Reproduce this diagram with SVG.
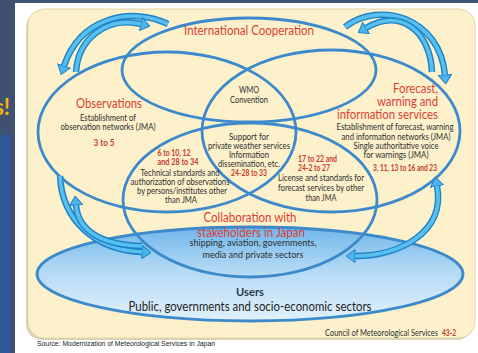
<svg xmlns="http://www.w3.org/2000/svg" width="478" height="353" viewBox="0 0 478 353">
<style>
.ring{fill:none;stroke:#3c89cb;stroke-width:2.8}
.t{font-family:Lato,"Liberation Sans",sans-serif;fill:#dd3d35;font-size:13.5px}
.b{font-family:Lato,"Liberation Sans",sans-serif;fill:#2e2e2e;font-size:9.5px;text-anchor:middle}
.n{font-family:Lato,"Liberation Sans",sans-serif;fill:#c53a2c;font-size:9px;font-weight:bold;text-anchor:middle}
.m{text-anchor:middle}
.e{text-anchor:end}
.ao{fill:none;stroke:#1f83c6;stroke-width:6.5}
.ai{fill:none;stroke:#58bff1;stroke-width:3.6}
</style>
<defs>
<linearGradient id="ug" x1="0" y1="0" x2="0" y2="1">
<stop offset="0" stop-color="#6fb6ea"/>
<stop offset="0.45" stop-color="#b2d9f5"/>
<stop offset="1" stop-color="#e2f1fc"/>
</linearGradient>
<marker id="ah" viewBox="0 0 10 14" markerWidth="10" markerHeight="14" refX="0.5" refY="7" orient="auto" markerUnits="userSpaceOnUse">
<path d="M0.5,0.5 L9.5,7 L0.5,13.5 Z" fill="#4cb4ec" stroke="#1f83c6" stroke-width="1"/>
</marker>
<marker id="ahs" viewBox="0 0 10 14" markerWidth="10" markerHeight="14" refX="0.5" refY="7" orient="auto-start-reverse" markerUnits="userSpaceOnUse">
<path d="M0.5,0.5 L9.5,7 L0.5,13.5 Z" fill="#4cb4ec" stroke="#1f83c6" stroke-width="1"/>
</marker>
</defs>

<g id="backdrop">
<rect x="0" y="0" width="478" height="353" fill="#3f5070"/>
<rect x="0" y="135" width="11" height="218" fill="#30599a"/>
<text x="10" y="115" font-family="Lato,'Liberation Sans',sans-serif" font-size="22" font-weight="bold" fill="#f2b705" text-anchor="end">s!</text>
<rect x="15" y="3" width="463" height="350" fill="#ffffff"/>
<rect x="26" y="11" width="447" height="329" rx="16" fill="#d8d1bb"/>
<rect x="28" y="9" width="447" height="329" rx="16" fill="#fcf1cb" stroke="#e4d6a8" stroke-width="1"/>
</g>

<g id="users">
<ellipse cx="250" cy="274" rx="213" ry="47" fill="url(#ug)" stroke="#3c89cb" stroke-width="2.8"/>
<text x="250" y="296" font-family="Lato,'Liberation Sans',sans-serif" font-size="12" font-weight="bold" fill="#2b3a4c" text-anchor="middle" textLength="28" lengthAdjust="spacingAndGlyphs">Users</text>
<text x="250" y="311" font-family="Lato,'Liberation Sans',sans-serif" font-size="13" fill="#1f1f1f" text-anchor="middle" textLength="243" lengthAdjust="spacingAndGlyphs">Public, governments and socio-economic sectors</text>
</g>

<g id="international">
<ellipse class="ring" cx="249" cy="70" rx="127" ry="52"/>
<text class="t m" x="249" y="35" font-size="14" textLength="130" lengthAdjust="spacingAndGlyphs">International Cooperation</text>
</g>

<g id="observations">
<ellipse class="ring" cx="167" cy="132" rx="129" ry="80"/>
<text class="t m" x="109" y="108" textLength="66" lengthAdjust="spacingAndGlyphs">Observations</text>
<text class="b" x="108" y="121" textLength="56" lengthAdjust="spacingAndGlyphs">Establishment of</text>
<text class="b" x="108" y="130" textLength="95" lengthAdjust="spacingAndGlyphs">observation networks (JMA)</text>
<text class="n" x="104" y="146" font-size="10.5" textLength="21" lengthAdjust="spacingAndGlyphs">3 to 5</text>
</g>

<g id="forecast">
<ellipse class="ring" cx="331" cy="131" rx="129" ry="81"/>
<text class="t e" x="438" y="93" font-size="13" textLength="45" lengthAdjust="spacingAndGlyphs">Forecast,</text>
<text class="t e" x="438" y="106" font-size="13" textLength="61" lengthAdjust="spacingAndGlyphs">warning and</text>
<text class="t e" x="438" y="118.5" font-size="13" textLength="101" lengthAdjust="spacingAndGlyphs">information services</text>
<text class="b" x="395" y="130" textLength="117" lengthAdjust="spacingAndGlyphs">Establishment of forecast, warning</text>
<text class="b" x="396" y="140" textLength="109" lengthAdjust="spacingAndGlyphs">and information networks (JMA)</text>
<text class="b" x="396" y="149" textLength="85" lengthAdjust="spacingAndGlyphs">Single authoritative voice</text>
<text class="b" x="396" y="158" textLength="65" lengthAdjust="spacingAndGlyphs">for warnings (JMA)</text>
<text class="n" x="405" y="171" textLength="64" lengthAdjust="spacingAndGlyphs">3, 11, 13 to 16 and 23</text>
</g>

<g id="collaboration">
<ellipse class="ring" cx="250" cy="200" rx="127" ry="77"/>
<text class="t m" x="250" y="222" textLength="93" lengthAdjust="spacingAndGlyphs">Collaboration with</text>
<text class="t m" x="251" y="236.5" textLength="108" lengthAdjust="spacingAndGlyphs">stakeholders in Japan</text>
<text class="b" x="253" y="246" font-size="10" textLength="127" lengthAdjust="spacingAndGlyphs">shipping, aviation, governments,</text>
<text class="b" x="253" y="257.5" font-size="10" textLength="101" lengthAdjust="spacingAndGlyphs">media and private sectors</text>
</g>

<g id="wmo">
<text class="b" x="249" y="93" textLength="20" lengthAdjust="spacingAndGlyphs">WMO</text>
<text class="b" x="249" y="103" textLength="38" lengthAdjust="spacingAndGlyphs">Convention</text>
</g>

<g id="support">
<text class="b" x="249" y="140" textLength="40" lengthAdjust="spacingAndGlyphs">Support for</text>
<text class="b" x="249" y="149" textLength="82" lengthAdjust="spacingAndGlyphs">private weather services</text>
<text class="b" x="249" y="158" textLength="40" lengthAdjust="spacingAndGlyphs">Information</text>
<text class="b" x="249" y="167" textLength="62" lengthAdjust="spacingAndGlyphs">dissemination, etc.</text>
<text class="n" x="249" y="176" textLength="36" lengthAdjust="spacingAndGlyphs">24-28 to 33</text>
</g>

<g id="technical">
<text class="n" x="174" y="156" textLength="33" lengthAdjust="spacingAndGlyphs">6 to 10, 12</text>
<text class="n" x="178" y="164.5" textLength="41" lengthAdjust="spacingAndGlyphs">and 28 to 34</text>
<text class="b" x="180" y="175.5" textLength="79" lengthAdjust="spacingAndGlyphs">Technical standards and</text>
<text class="b" x="180" y="184.5" textLength="99" lengthAdjust="spacingAndGlyphs">authorization of observations</text>
<text class="b" x="182" y="194" textLength="90" lengthAdjust="spacingAndGlyphs">by persons/institutes other</text>
<text class="b" x="181" y="203" textLength="32" lengthAdjust="spacingAndGlyphs">than JMA</text>
</g>

<g id="license">
<text class="n" x="298" y="162" style="text-anchor:start" textLength="39" lengthAdjust="spacingAndGlyphs">17 to 22 and</text>
<text class="n" x="298" y="170.5" style="text-anchor:start" textLength="32" lengthAdjust="spacingAndGlyphs">24-2 to 27</text>
<text class="b" x="321" y="181" textLength="86" lengthAdjust="spacingAndGlyphs">License and standards for</text>
<text class="b" x="321" y="191" textLength="86" lengthAdjust="spacingAndGlyphs">forecast services by other</text>
<text class="b" x="321" y="201" textLength="31" lengthAdjust="spacingAndGlyphs">than JMA</text>
</g>

<g id="connectors">
<path class="ao" d="M168,24 C130,6 80,18 64,66" marker-end="url(#ah)"/>
<path class="ai" d="M168,24 C130,6 80,18 64,66"/>
<path class="ao" d="M76,72 C78,40 105,16 141,24" marker-end="url(#ah)"/>
<path class="ai" d="M76,72 C78,40 105,16 141,24"/>
<path class="ao" d="M345,27 C380,0 440,18 445,75" marker-end="url(#ah)"/>
<path class="ai" d="M345,27 C380,0 440,18 445,75"/>
<path class="ao" d="M432,72 C430,30 400,8 366,28" marker-end="url(#ah)"/>
<path class="ai" d="M432,72 C430,30 400,8 366,28"/>
<path class="ao" d="M60,176 C62,220 95,250 142,252" marker-end="url(#ah)"/>
<path class="ai" d="M60,176 C62,220 95,250 142,252"/>
<path class="ao" d="M142,246 C100,245 78,230 76,205" marker-end="url(#ah)"/>
<path class="ai" d="M142,246 C100,245 78,230 76,205"/>
<path class="ao" d="M437,186 C446,232 400,256 355,256" marker-start="url(#ahs)" marker-end="url(#ah)"/>
<path class="ai" d="M437,186 C446,232 400,256 355,256"/>
</g>

<g id="footer">
<text x="325" y="336" font-family="Lato,'Liberation Sans',sans-serif" font-size="8.5" fill="#2e2e2e" textLength="113" lengthAdjust="spacingAndGlyphs">Council of Meteorological Services</text>
<text x="442" y="336" font-family="Lato,'Liberation Sans',sans-serif" font-size="8.5" font-weight="bold" fill="#c53a2c" textLength="14" lengthAdjust="spacingAndGlyphs">43-2</text>
<text x="37" y="346" font-family="'Liberation Sans',sans-serif" font-size="8" fill="#222222" textLength="178" lengthAdjust="spacingAndGlyphs">Source: Modernization of Meteorological Services in Japan</text>
</g>
</svg>
